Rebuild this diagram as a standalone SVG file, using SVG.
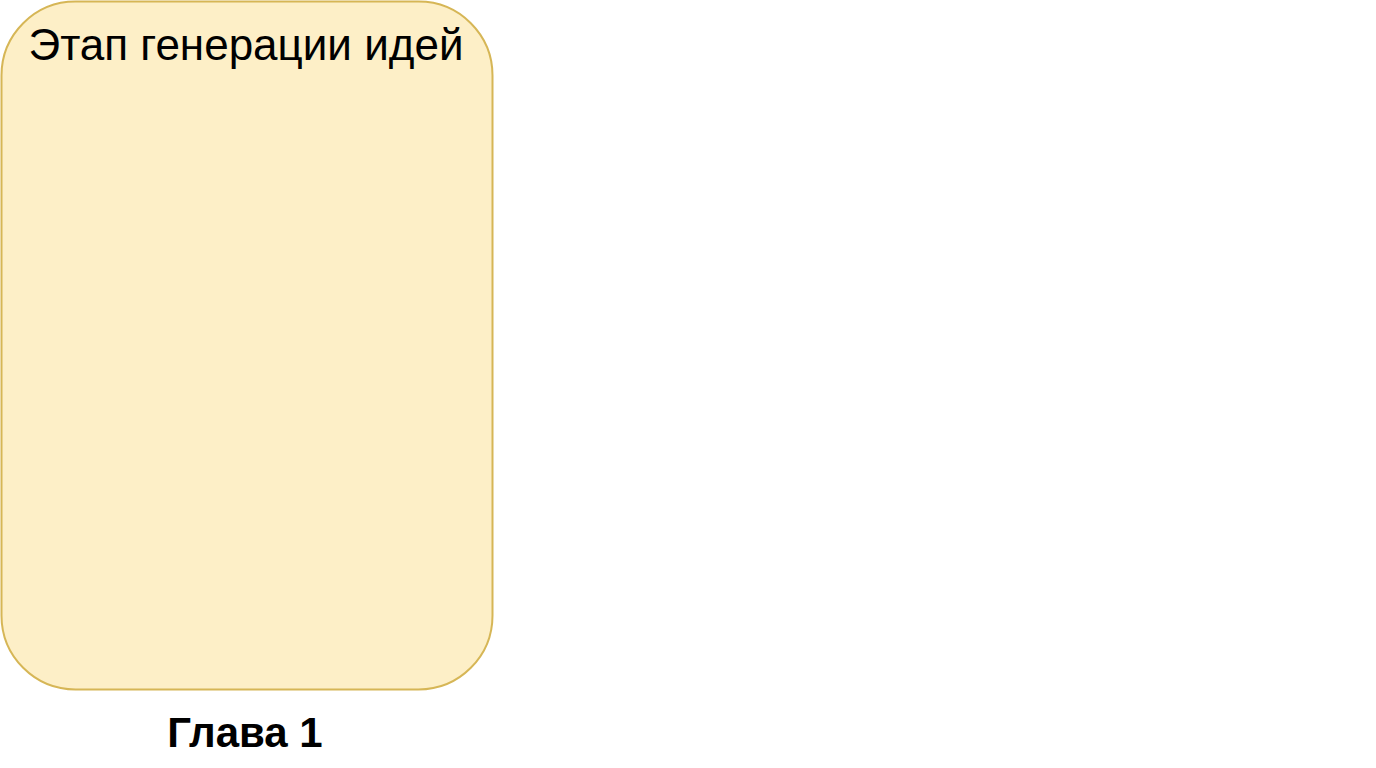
<svg xmlns="http://www.w3.org/2000/svg" width="1376" height="768" viewBox="0 0 1376 768">
<style>
.box{fill:#fdefc7;stroke:#d6b656;stroke-width:2}
.t{font-family:"Liberation Sans",Arial,sans-serif;fill:#000;text-anchor:middle}
</style>
<rect width="1376" height="768" fill="#fff"/>
<g id="stage">
<rect class="box" x="1.5" y="1.5" width="491" height="688" rx="74" ry="74"/>
<text class="t" x="246" y="60" font-size="44">Этап генерации идей</text>
</g>
<g id="chapter">
<text class="t" x="245" y="747" font-size="42" font-weight="bold">Глава 1</text>
</g>
<g id="connectors"></g>
</svg>
